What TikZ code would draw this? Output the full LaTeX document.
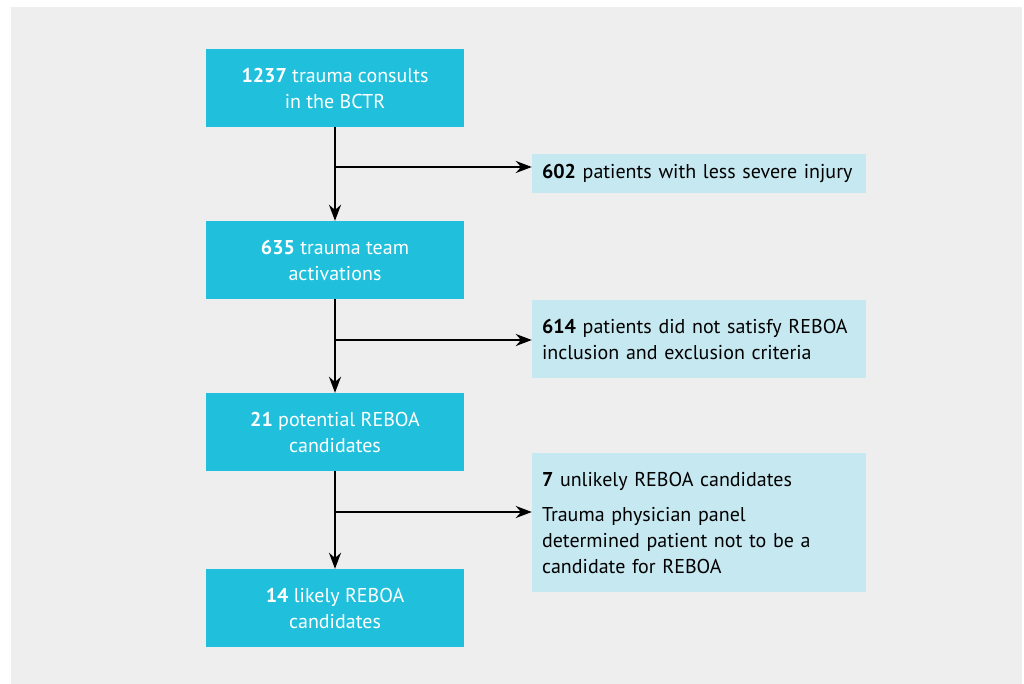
\documentclass[tikz,border=0pt]{standalone}
\usepackage{fontspec}
\setmainfont{PT Sans}
\usetikzlibrary{positioning, arrows.meta}
\definecolor{boxcyan}{RGB}{32, 192, 220}
\definecolor{sidecyan}{RGB}{198, 232, 241}
\definecolor{bggrey}{RGB}{238, 238, 238}

\begin{document}
\begin{tikzpicture}[x=1pt, y=-1pt,
  mainbox/.style={fill=boxcyan, text=white, minimum width=258pt, minimum height=78pt, align=center, inner sep=0pt, font=\fontsize{20}{26}\selectfont},
  sidebox/.style={fill=sidecyan, text=black, minimum width=334pt, text width=314pt, align=left, inner xsep=10pt, font=\fontsize{20}{26}\selectfont},
  flow/.style={-{Stealth[length=16pt, width=12pt]}, line width=2pt}]
  % Background
  \useasboundingbox (0, 0) rectangle (1024, 684);
  \fill[bggrey] (11, 7) rectangle (1022, 684);

  % Main column
  \node[mainbox] (consults) at (335, 88) {\textbf{1237} trauma consults\\in the BCTR};
  \node[mainbox] (activations) at (335, 260) {\textbf{635} trauma team\\activations};
  \node[mainbox] (potential) at (335, 432) {\textbf{21} potential REBOA\\candidates};
  \node[mainbox] (likely) at (335, 608) {\textbf{14} likely REBOA\\candidates};

  % Exclusions
  \node[sidebox, minimum height=39pt] (lesssevere) at (699, 173.5) {\textbf{602} patients with less severe injury};
  \node[sidebox, minimum height=78pt] (criteria) at (699, 339) {\textbf{614} patients did not satisfy REBOA\\inclusion and exclusion criteria};
  \node[sidebox, minimum height=139pt] (unlikely) at (699, 522.5) {\textbf{7} unlikely REBOA candidates\\[9pt]Trauma physician panel\\determined patient not to be a\\candidate for REBOA};

  % Arrows
  \coordinate (split1) at (334, 167);
  \coordinate (split2) at (334, 340);
  \coordinate (split3) at (334, 512);
  \draw[flow] (consults) -- (activations);
  \draw[flow] (activations) -- (potential);
  \draw[flow] (potential) -- (likely);
  \draw[flow] (split1) -- (split1 -| lesssevere.west);
  \draw[flow] (split2) -- (split2 -| criteria.west);
  \draw[flow] (split3) -- (split3 -| unlikely.west);
\end{tikzpicture}
\end{document}
